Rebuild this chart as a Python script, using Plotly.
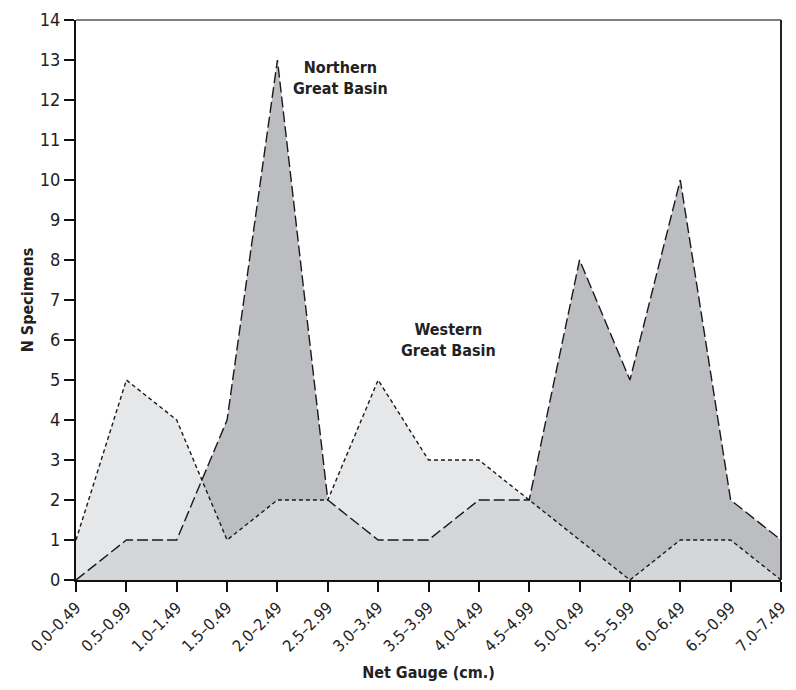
import plotly.graph_objects as go

categories = ["0.0–0.49", "0.5–0.99", "1.0–1.49", "1.5–0.49", "2.0–2.49", "2.5–2.99",
              "3.0–3.49", "3.5–3.99", "4.0–4.49", "4.5–4.99", "5.0–0.49", "5.5–5.99",
              "6.0–6.49", "6.5–0.99", "7.0–7.49"]
northern = [0, 1, 1, 4, 13, 2, 1, 1, 2, 2, 8, 5, 10, 2, 1]
western = [1, 5, 4, 1, 2, 2, 5, 3, 3, 2, 1, 0, 1, 1, 0]
y_ticks = list(range(0, 15))

xs = list(range(len(categories)))
FONT = "DejaVu Sans Condensed, Liberation Sans Narrow, sans-serif"

fig = go.Figure()
# fills
fig.add_trace(go.Scatter(x=xs, y=northern, mode="lines", fill="tozeroy",
                         fillcolor="rgb(188,189,193)", line=dict(width=0),
                         hoverinfo="skip", showlegend=False))
fig.add_trace(go.Scatter(x=xs, y=western, mode="lines", fill="tozeroy",
                         fillcolor="rgba(222,223,224,0.75)", line=dict(width=0),
                         hoverinfo="skip", showlegend=False))
# outlines
fig.add_trace(go.Scatter(x=xs, y=northern, mode="lines", name="Northern Great Basin",
                         line=dict(color="#1a1a1a", width=1.4, dash="11px,4px"),
                         showlegend=False))
fig.add_trace(go.Scatter(x=xs, y=western, mode="lines", name="Western Great Basin",
                         line=dict(color="#1a1a1a", width=1.4, dash="4px,3px"),
                         showlegend=False))

fig.add_annotation(x=5.25, y=12.55, text="<b>Northern<br>Great Basin</b>", showarrow=False,
                   font=dict(family=FONT, size=16, color="#222"), align="center")
fig.add_annotation(x=7.4, y=6.0, text="<b>Western<br>Great Basin</b>", showarrow=False,
                   font=dict(family=FONT, size=16, color="#222"), align="center")

# frame lines
fig.add_shape(type="line", xref="paper", yref="paper", x0=0, x1=1, y0=1, y1=1,
              line=dict(color="#555", width=1.5))
fig.add_shape(type="line", xref="paper", yref="paper", x0=1, x1=1, y0=0, y1=1,
              line=dict(color="#222", width=2))

fig.update_layout(
    width=796, height=690,
    margin=dict(l=76, r=15, t=20, b=110),
    paper_bgcolor="white", plot_bgcolor="white",
    font=dict(family=FONT, size=15, color="#222"),
    xaxis=dict(range=[0, 14], tickvals=xs, ticktext=categories, tickangle=-45,
               automargin=False,
               showgrid=False, zeroline=False, showline=True, linecolor="#111",
               linewidth=2, ticks="outside", ticklen=10, tickcolor="#111", tickwidth=1.5,
               tickfont=dict(size=16),
               title=dict(text="<b>Net Gauge (cm.)</b>", font=dict(size=16), standoff=12)),
    yaxis=dict(range=[0, 14], tickvals=y_ticks, showgrid=False, zeroline=False,
               automargin=False,
               showline=True, linecolor="#111", linewidth=2, ticks="outside",
               ticklen=10, tickcolor="#111", tickwidth=1.5, tickfont=dict(size=18),
               title=dict(text="<b>N Specimens</b>", font=dict(size=16), standoff=2)),
)

fig.write_html("out.html", config={"displayModeBar": False},
               post_script="document.body.style.margin='0';")
